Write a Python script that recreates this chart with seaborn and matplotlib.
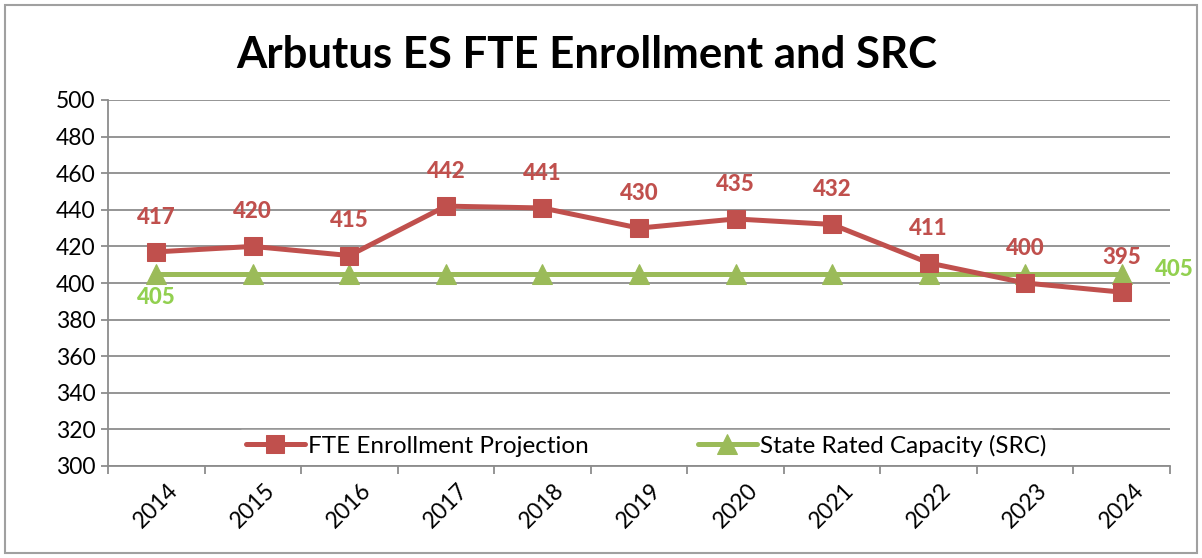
import numpy as np
import pandas as pd
import seaborn as sns
from matplotlib import pyplot as plt
from matplotlib.patches import Rectangle

years = ['2014', '2015', '2016', '2017', '2018', '2019', '2020', '2021', '2022', '2023', '2024']
enrollment = [417, 420, 415, 442, 441, 430, 435, 432, 411, 400, 395]
capacity = [405, 405, 405, 405, 405, 405, 405, 405, 405, 405, 405]

red = '#C0504D'
green = '#9BBB59'
green_lbl = '#92D050'
grid_c = '#8C8C8C'

sns.set_style('white')
plt.rcParams['font.family'] = ['Lato', 'DejaVu Sans']

df = pd.DataFrame({'pos': np.arange(len(years)), 'year': years,
                   'enr': enrollment, 'src': capacity})

fig = plt.figure(figsize=(12.02, 5.58), dpi=100)
ax = fig.add_axes([108 / 1202, 1 - 466 / 558, (1170 - 108) / 1202, (466 - 100) / 558])

sns.lineplot(data=df, x='pos', y='enr', ax=ax, color=red, lw=3.6, marker='s',
             markersize=13, markeredgecolor=red, label='FTE Enrollment Projection', zorder=4)
sns.lineplot(data=df, x='pos', y='src', ax=ax, color=green, lw=3.6, marker='^',
             markersize=14, markeredgecolor=green, label='State Rated Capacity (SRC)', zorder=3)

# data labels
for x, v in zip(df['pos'], enrollment):
    ax.annotate(str(v), (x, v), xytext=(0, 25), textcoords='offset points',
                ha='center', va='center', color=red, fontsize=16, fontweight='black')
ax.annotate(str(capacity[0]), (0, capacity[0]), xytext=(0, -17), textcoords='offset points',
            ha='center', va='center', color=green_lbl, fontsize=16, fontweight='black')
ax.annotate(str(capacity[-1]), (len(years) - 1, capacity[-1]), xytext=(38, 3), textcoords='offset points',
            ha='center', va='center', color=green_lbl, fontsize=16, fontweight='black')

ax.set_xlim(-0.5, len(years) - 0.5)
ax.set_ylim(300, 500)
ax.set_yticks(range(300, 501, 20))
ax.yaxis.grid(True, color=grid_c, lw=1.3)
ax.set_axisbelow(True)
ax.tick_params(axis='y', which='major', length=5, color=grid_c, width=1.3, labelsize=16.5, pad=4,
               left=True, labelcolor='black')

ax.set_xticks(df['pos'])
ax.set_xticklabels(years, rotation=45, ha='center', fontsize=16.5, color='black')
ax.set_xticks(np.arange(-0.5, len(years), 1), minor=True)
ax.tick_params(axis='x', which='major', length=0, pad=10, bottom=True)
ax.tick_params(axis='x', which='minor', length=6, color=grid_c, width=1.3, bottom=True)
ax.set_xlabel('')
ax.set_ylabel('')

for s in ['top', 'right']:
    ax.spines[s].set_visible(False)
for s in ['left', 'bottom']:
    ax.spines[s].set_color(grid_c)
    ax.spines[s].set_linewidth(1.3)

leg = ax.legend(loc='center', bbox_to_anchor=(0.507, 0.055), ncol=2, frameon=True,
                fontsize=17.5, columnspacing=4.5, handlelength=2.4, handletextpad=0.15,
                borderpad=0.2, fancybox=False)
leg.get_frame().set_facecolor('white')
leg.get_frame().set_edgecolor('white')
leg.get_frame().set_alpha(1)
for t in leg.get_texts():
    t.set_color('black')

fig.text(587 / 1202, 1 - 55 / 558, 'Arbutus ES FTE Enrollment and SRC', ha='center', va='center',
         fontsize=31.5, fontweight='bold', color='black')

fig.patches.append(Rectangle((5 / 1202, 5 / 558), 1192 / 1202, 548 / 558, transform=fig.transFigure,
                             fill=False, edgecolor='#A0A0A0', lw=1.5))

fig.savefig('out.png', dpi=100)
